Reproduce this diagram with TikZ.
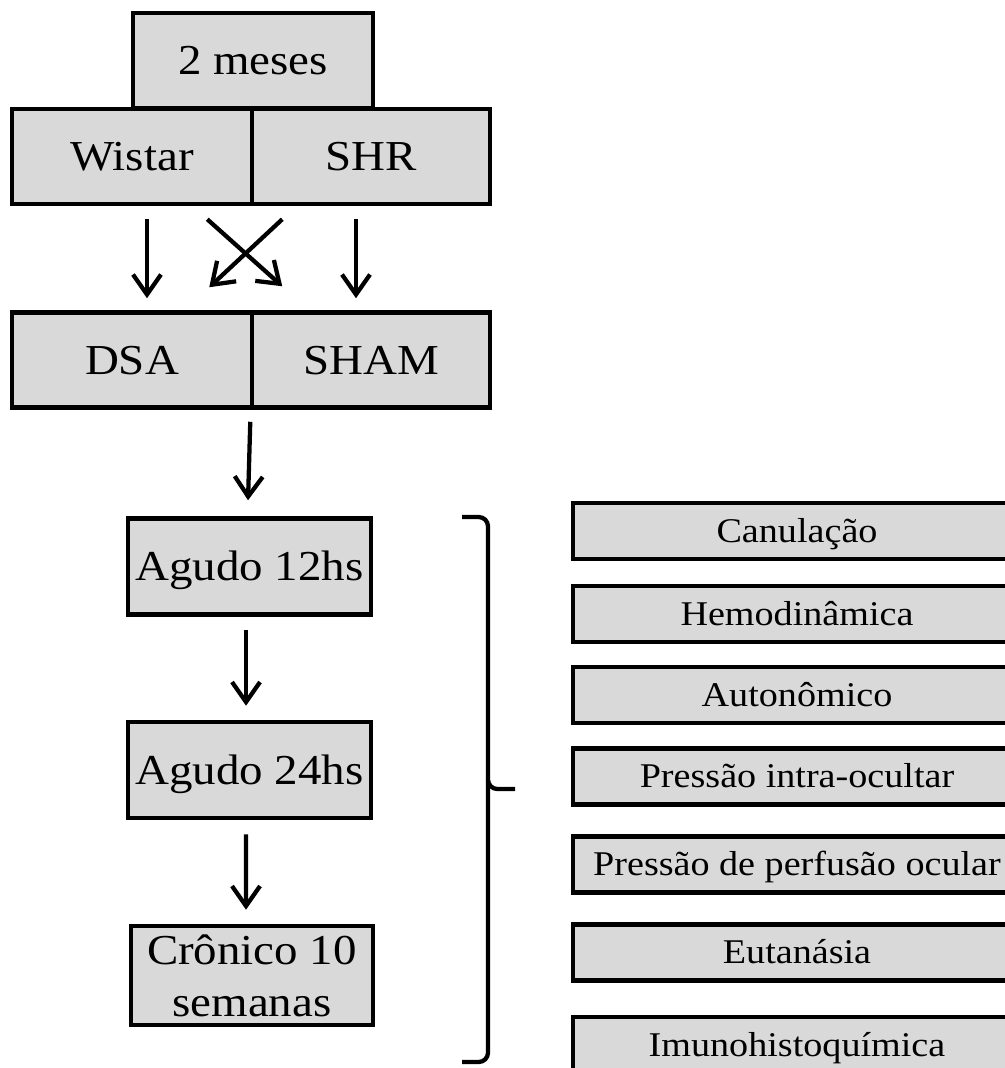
\documentclass[tikz,border=0pt]{standalone}
\usepackage{fontspec}
\setmainfont{Liberation Serif}[FakeStretch=1.1]
\usetikzlibrary{arrows.meta}
\definecolor{boxgray}{HTML}{D9D9D9}
\begin{document}
\begin{tikzpicture}[x=0.75pt,y=-0.75pt,
  box/.style={draw,fill=boxgray,line width=3.4pt,inner sep=0pt,anchor=center},
  big/.style={font=\fontsize{32}{39}\selectfont},
  bigline/.style={big,text height=21pt,text depth=0pt},
  small/.style={font=\fontsize{26}{30}\selectfont,text height=17.2pt,text depth=0pt},
  rbox/.style={box,small,minimum width=336pt,minimum height=42pt},
  arr/.style={line width=3.2pt,-{Straight Barb[length=15pt,width=21pt,line width=3.2pt]}},
  bracket/.style={line width=3.2pt,rounded corners=7pt}]
\clip (0,0) rectangle (1005,1068);
% top blocks
\node[box,bigline,minimum width=180pt,minimum height=71.25pt] (meses) at (253,60.5) {2 meses};
\node[box,bigline,minimum width=180pt,minimum height=71.25pt] (wistar) at (132,156.5) {Wistar};
\node[box,bigline,minimum width=178.5pt,minimum height=71.25pt] (shr) at (371,156.5) {SHR};
\node[box,bigline,minimum width=180pt,minimum height=71.25pt] (dsa) at (132,360) {DSA};
\node[box,bigline,minimum width=178.5pt,minimum height=71.25pt] (sham) at (371,360) {SHAM};
% time blocks
\node[box,bigline,minimum width=182.25pt,minimum height=72pt] (ag12) at (249.5,566.5) {Agudo 12hs};
\node[box,bigline,minimum width=182.25pt,minimum height=72pt] (ag24) at (249.5,770) {Agudo 24hs};
\node[box,big,minimum width=181.5pt,minimum height=74.25pt,align=center] (cron) at (252,975.5) {Crônico 10\\semanas};
% right blocks
\node[rbox] (r1) at (797,531) {Canulação};
\node[rbox] (r2) at (797,614) {Hemodinâmica};
\node[rbox] (r3) at (797,695) {Autonômico};
\node[rbox] (r4) at (797,776.5) {Pressão intra-ocultar};
\node[rbox] (r5) at (797,864.5) {Pressão de perfusão ocular};
\node[rbox] (r6) at (797,952.5) {Eutanásia};
\node[rbox] (r7) at (797,1045) {Imunohistoquímica};
% arrows
\draw[arr] ([xshift=11.25pt,yshift=-9.75pt]wistar.south) -- ([xshift=11.25pt,yshift=9pt]dsa.north);
\draw[arr] ([xshift=-11.25pt,yshift=-9.75pt]shr.south) -- ([xshift=-11.25pt,yshift=9pt]sham.north);
\draw[arr] ([xshift=-35.25pt,yshift=-9.75pt]wistar.south east) -- ([xshift=21pt,yshift=18pt]dsa.north east);
\draw[arr] ([xshift=21pt,yshift=-9.75pt]wistar.south east) -- ([xshift=-33.75pt,yshift=17.25pt]dsa.north east);
\draw[arr] ([xshift=-3pt,yshift=-9pt]dsa.south east) -- ([xshift=-1.1pt,yshift=12pt]ag12.north);
\draw[arr] ([xshift=-2.6pt,yshift=-9.75pt]ag12.south) -- ([xshift=-2.6pt,yshift=10.5pt]ag24.north);
\draw[arr] ([xshift=-2.6pt,yshift=-10.5pt]ag24.south) -- ([xshift=-4.5pt,yshift=10.5pt]cron.north);
% bracket
\draw[bracket] (462,517) -- (488,517) -- (488,789) -- (515,789);
\draw[bracket] (488,780) -- (488,1062) -- (462,1062);
\end{tikzpicture}
\end{document}
